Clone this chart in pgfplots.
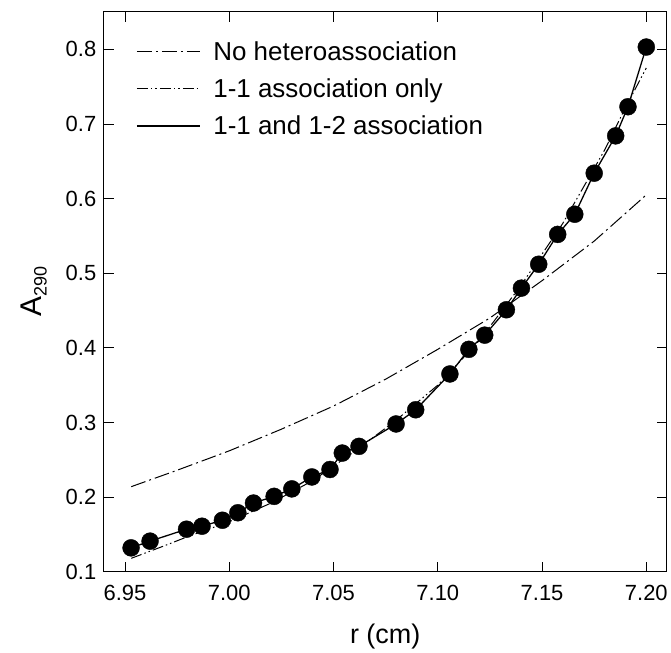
\documentclass[border=0pt]{standalone}
\usepackage{fontspec}
\setmainfont{Liberation Sans}
\usepackage{pgfplots}
\pgfplotsset{compat=1.18}

% data
\pgfplotstableread{
r      A
6.9529 0.132
6.9620 0.141
6.9795 0.157
6.9869 0.161
6.9967 0.169
7.0041 0.179
7.0116 0.192
7.0215 0.201
7.0300 0.211
7.0396 0.227
7.0483 0.237
7.0542 0.259
7.0622 0.268
7.0800 0.298
7.0894 0.317
7.1058 0.365
7.1149 0.398
7.1225 0.417
7.1329 0.451
7.1401 0.480
7.1484 0.512
7.1575 0.552
7.1657 0.579
7.1750 0.634
7.1853 0.684
7.1912 0.723
7.2000 0.803
}\expdata

\pgfplotstableread{
r     A
6.953 0.214
6.975 0.236
7.000 0.262
7.025 0.291
7.050 0.322
7.075 0.358
7.100 0.398
7.125 0.440
7.150 0.490
7.175 0.543
7.200 0.605
}\nohetero

\pgfplotstableread{
r     A
6.953 0.118
6.970 0.136
6.980 0.147
7.000 0.167
7.020 0.192
7.040 0.222
7.060 0.261
7.080 0.303
7.100 0.350
7.120 0.410
7.140 0.484
7.160 0.567
7.180 0.665
7.190 0.722
7.200 0.775
}\oneone

\begin{document}
\begin{tikzpicture}
\begin{axis}[
  scale only axis, width=564pt, height=561pt,
  xmin=6.9398, xmax=7.2097, ymin=0.1, ymax=0.85,
  xtick={6.95,7.00,7.05,7.10,7.15,7.20},
  ytick={0.1,0.2,0.3,0.4,0.5,0.6,0.7,0.8},
  xticklabel style={/pgf/number format/.cd,fixed,fixed zerofill,precision=2},
  yticklabel style={/pgf/number format/.cd,fixed,fixed zerofill,precision=1},
  /pgf/number format/assume math mode=true,
  tick align=inside, major tick length=10pt,
  tick style={line width=0.8pt, black},
  axis line style={line width=1pt},
  ticklabel style={font=\fontsize{22}{24}\selectfont},
  xticklabel shift=10pt, yticklabel shift=4pt,
  xlabel={r (cm)},
  ylabel={\fontsize{30}{32}\selectfont A\raisebox{-0.3ex}{\fontsize{18}{20}\selectfont 290}},
  xlabel style={font=\fontsize{27}{30}\selectfont, yshift=-16pt},
  ylabel style={yshift=12pt},
  legend style={draw=none, fill=none, at={(0.052,0.955)}, anchor=north west,
    font=\fontsize{26}{30}\selectfont, row sep=13pt},
  legend cell align=left,
  legend image code/.code={\draw[#1] (0pt,0pt) -- (63pt,0pt); \path (74pt,0pt);},
]
  \addplot[black, line width=1pt, dash pattern=on 15pt off 4pt on 2pt off 4pt] table[x=r,y=A] {\nohetero};
  \addplot[black, line width=1pt, dash pattern=on 11pt off 3pt on 1.5pt off 3pt on 1.5pt off 3pt] table[x=r,y=A] {\oneone};
  \addplot[black, line width=1.3pt] table[x=r,y=A] {\expdata};
  \addplot[only marks, mark=*, mark size=8.5pt, black, forget plot] table[x=r,y=A] {\expdata};
  \legend{No heteroassociation, 1-1 association only, 1-1 and 1-2 association}
\end{axis}
\path (current axis.south west) ++(-104pt,-80pt);
\path (current axis.north east) ++(3pt,12pt);
\end{tikzpicture}
\end{document}
